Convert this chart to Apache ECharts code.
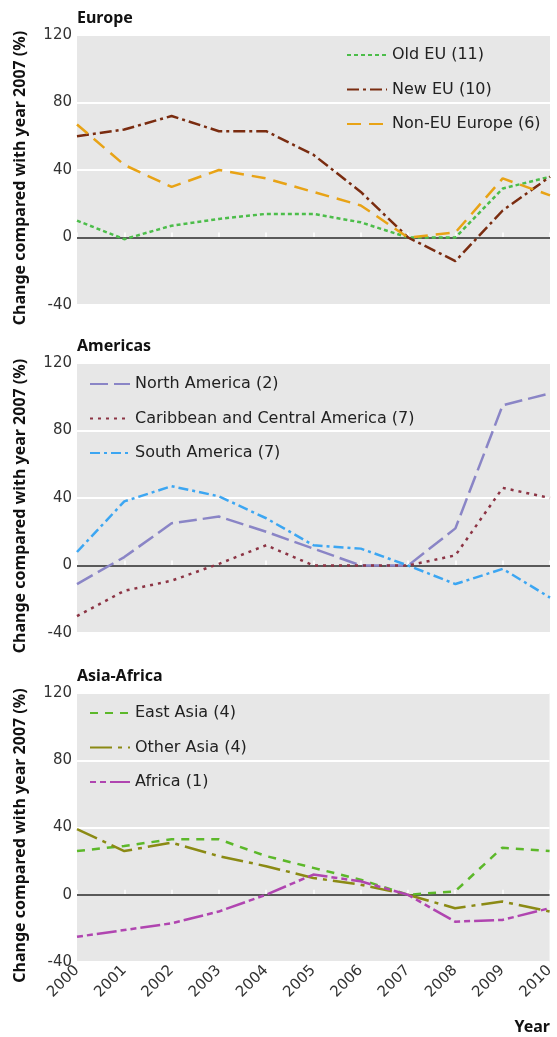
<!DOCTYPE html>
<html><head><meta charset="utf-8">
<script src="https://cdn.jsdelivr.net/npm/echarts@6/dist/echarts.min.js"></script>
<style>html,body{margin:0;padding:0;background:#fff}#c{width:557px;height:1037px}</style>
</head><body><div id="c"></div>
<script>
const years = ['2000','2001','2002','2003','2004','2005','2006','2007','2008','2009','2010'];
const yTicks = [-40, 0, 40, 80, 120];
const panelTitles = ['Europe', 'Americas', 'Asia-Africa'];

const oldEU = [10, -1, 7, 11, 14, 14, 9, 0, 0, 29, 36];
const newEU = [60, 64, 72, 63, 63, 49, 27, 0, -14, 16, 36];
const nonEU = [67, 43, 30, 40, 35, 27, 19, 0, 3, 35, 25];

const northAmerica = [-11, 5, 25, 29, 20, 10, 0, 0, 22, 95, 102];
const caribbean = [-30, -15, -9, 1, 12, 0, 0, 0, 6, 46, 40];
const southAmerica = [8, 38, 47, 41, 28, 12, 10, 0, -11, -2, -19];

const eastAsia = [26, 29, 33, 33, 23, 16, 9, 0, 2, 28, 26];
const otherAsia = [39, 26, 31, 23, 17, 10, 6, 0, -8, -4, -10];
const africa = [-25, -21, -17, -10, 0, 12, 8, 0, -16, -15, -8];

const FONT = 'DejaVu Sans';
const BFONT = 'Noto Sans';
const panels = [
  {top: 35, height: 270, legendLeft: 341, legendTop: 42, series: [
    {name: 'Old EU (11)', data: oldEU, color: '#4cbd4a', dash: [4, 3]},
    {name: 'New EU (10)', data: newEU, color: '#7a2c10', dash: [12, 4, 3, 4]},
    {name: 'Non-EU Europe (6)', data: nonEU, color: '#e8a316', dash: [14, 8]}
  ]},
  {top: 363, height: 270, legendLeft: 84, legendTop: 371, series: [
    {name: 'North America (2)', data: northAmerica, color: '#8a85c6', dash: [18, 6]},
    {name: 'Caribbean and Central America (7)', data: caribbean, color: '#8c3444', dash: [3, 5]},
    {name: 'South America (7)', data: southAmerica, color: '#3ca6f2', dash: [10, 4, 3, 4]}
  ]},
  {top: 693, height: 269, legendLeft: 84, legendTop: 700, series: [
    {name: 'East Asia (4)', data: eastAsia, color: '#5cb82a', dash: [8, 7]},
    {name: 'Other Asia (4)', data: otherAsia, color: '#8b8a14', dash: [22, 6, 4, 6]},
    {name: 'Africa (1)', data: africa, color: '#b045b0', dash: [6, 4, 6, 4, 20, 4]}
  ]}
];

const grid = [], xAxis = [], yAxis = [], series = [], legend = [], title = [];
panels.forEach((p, i) => {
  grid.push({left: 77, right: 7, top: p.top, height: p.height, show: true,
    backgroundColor: '#e7e7e7', borderWidth: 0, containLabel: false});
  xAxis.push({type: 'category', gridIndex: i, data: years, boundaryGap: false,
    axisLine: {show: false},
    axisTick: {show: true, inside: true, length: 5, lineStyle: {color: '#ffffff', width: 1.5}},
    axisLabel: {show: i === 2, rotate: 45, fontSize: 15, color: '#333', fontFamily: FONT, margin: 6},
    splitLine: {show: false}});
  yAxis.push({type: 'value', gridIndex: i, min: yTicks[0], max: yTicks[yTicks.length - 1], interval: 40,
    axisLine: {show: false}, axisTick: {show: false},
    axisLabel: {fontSize: 15, color: '#333', fontFamily: FONT, margin: 5},
    splitLine: {show: true, lineStyle: {color: '#ffffff', width: 2}},
    name: 'Change compared with year 2007 (%)', nameLocation: 'middle', nameGap: 49,
    nameTextStyle: {fontSize: 16, fontWeight: 'bold', color: '#111', fontFamily: BFONT,
      padding: [0, 16, 0, 0]}});
  title.push({text: panelTitles[i], left: 72, top: p.top - 30,
    textStyle: {fontSize: 16, fontWeight: 'bold', color: '#111', fontFamily: BFONT}});
  legend.push({orient: 'vertical', left: p.legendLeft, top: p.legendTop,
    itemWidth: 40, itemHeight: 14, itemGap: 18.5, selectedMode: false,
    itemStyle: {opacity: 0},
    textStyle: {fontSize: 16, color: '#222', fontFamily: FONT},
    data: p.series.map(s => s.name)});
  p.series.forEach((s, k) => {
    const obj = {type: 'line', name: s.name, xAxisIndex: i, yAxisIndex: i, data: s.data,
      symbol: 'none', showSymbol: false, smooth: false, silent: true, animation: false,
      lineStyle: {color: s.color, width: 2.5, type: s.dash}, itemStyle: {color: s.color}, z: 3};
    if (k === 0) {
      obj.markLine = {silent: true, symbol: 'none', label: {show: false},
        lineStyle: {color: '#222', width: 1.5, type: 'solid'}, data: [{yAxis: 0}], z: 2};
    }
    series.push(obj);
  });
});
title.push({text: 'Year', right: 2, top: 1014,
  textStyle: {fontSize: 16, fontWeight: 'bold', color: '#111', fontFamily: BFONT}});

const chart = echarts.init(document.getElementById('c'), null, {renderer: 'canvas'});
chart.setOption({animation: false, title, grid, xAxis, yAxis, legend, series});
</script></body></html>
